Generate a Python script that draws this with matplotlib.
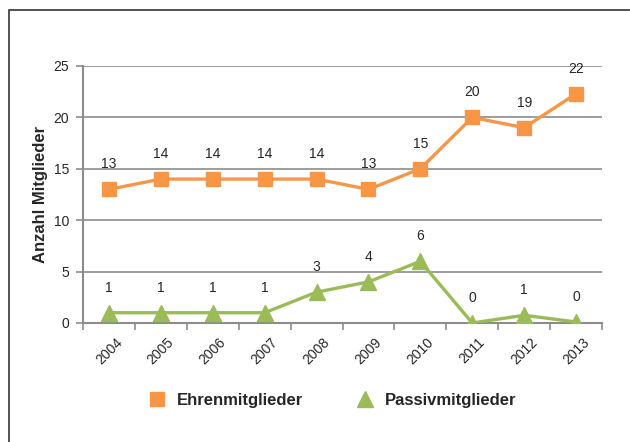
import matplotlib
matplotlib.use("Agg")
import matplotlib.pyplot as plt
from matplotlib.patches import Rectangle

years = ["2004", "2005", "2006", "2007", "2008", "2009", "2010", "2011", "2012", "2013"]
ehren = [13, 14, 14, 14, 14, 13, 15, 20, 19, 22.3]
passiv = [1, 1, 1, 1, 3, 4, 6, 0, 0.75, 0.1]
series_names = ["Ehrenmitglieder", "Passivmitglieder"]
y_label = "Anzahl Mitglieder"

plt.rcParams['font.family'] = ['Liberation Sans', 'DejaVu Sans']

orange = "#F79646"
green = "#9BBB59"
grid_c = "#8C8C8C"
text_c = "#262626"

fig = plt.figure(figsize=(6.3, 4.42), dpi=100)
ax = fig.add_axes([83/630, 119/442, (602-83)/630, (323-66)/442])

x = list(range(len(years)))
l1, = ax.plot(x, ehren, color=orange, lw=2.4, marker='s', markersize=10,
              markeredgecolor=orange, label=series_names[0], zorder=3)
l2, = ax.plot(x, passiv, color=green, lw=2.4, marker='^', markersize=11,
              markeredgecolor=green, label=series_names[1], zorder=3)

for xi, v in zip(x, ehren):
    ax.annotate(f"{v:.0f}", (xi, v), xytext=(0, 13), textcoords='offset points',
                ha='center', va='bottom', fontsize=10, color=text_c)
for xi, v in zip(x, passiv):
    ax.annotate(f"{v:.0f}", (xi, v), xytext=(0, 13), textcoords='offset points',
                ha='center', va='bottom', fontsize=10, color=text_c)

ax.set_xlim(-0.5, len(years) - 0.5)
ax.set_ylim(0, 25)
ax.set_yticks([0, 5, 10, 15, 20, 25])
ax.set_xticks(x)
ax.set_xticklabels(years, rotation=45, ha='center', va='top', fontsize=10, color=text_c)
ax.set_xticks([i - 0.5 for i in range(len(years) + 1)], minor=True)
ax.tick_params(axis='x', which='major', length=0, pad=9)
ax.tick_params(axis='x', which='minor', length=5, color=grid_c, width=1.2)
ax.tick_params(axis='y', length=5, color=grid_c, width=1.2, labelsize=10, labelcolor=text_c, pad=5)

ax.grid(axis='y', color=grid_c, lw=1.2)
ax.set_axisbelow(True)
for s in ['top', 'right']:
    ax.spines[s].set_visible(False)
for s in ['left', 'bottom']:
    ax.spines[s].set_color(grid_c)
    ax.spines[s].set_linewidth(1.5)

ax.set_ylabel(y_label, fontsize=12, fontweight='bold', color=text_c, labelpad=4)

leg = fig.legend(handles=[l1, l2], loc='center', bbox_to_anchor=(333/630, 1 - 400/442),
                 ncol=2, frameon=False, prop={'weight': 'bold', 'size': 12},
                 columnspacing=3.3, handlelength=0.9, handletextpad=0.7, markerscale=1.0)
for h in leg.legend_handles:
    h.set_linestyle('None')
for t in leg.get_texts():
    t.set_color(text_c)

fig.patches.append(Rectangle((9/630, -0.1), 1.2, 1 - 10/442 + 0.1, transform=fig.transFigure,
                             fill=False, edgecolor='#333333', lw=1.2))

fig.savefig("out.png", dpi=100)
